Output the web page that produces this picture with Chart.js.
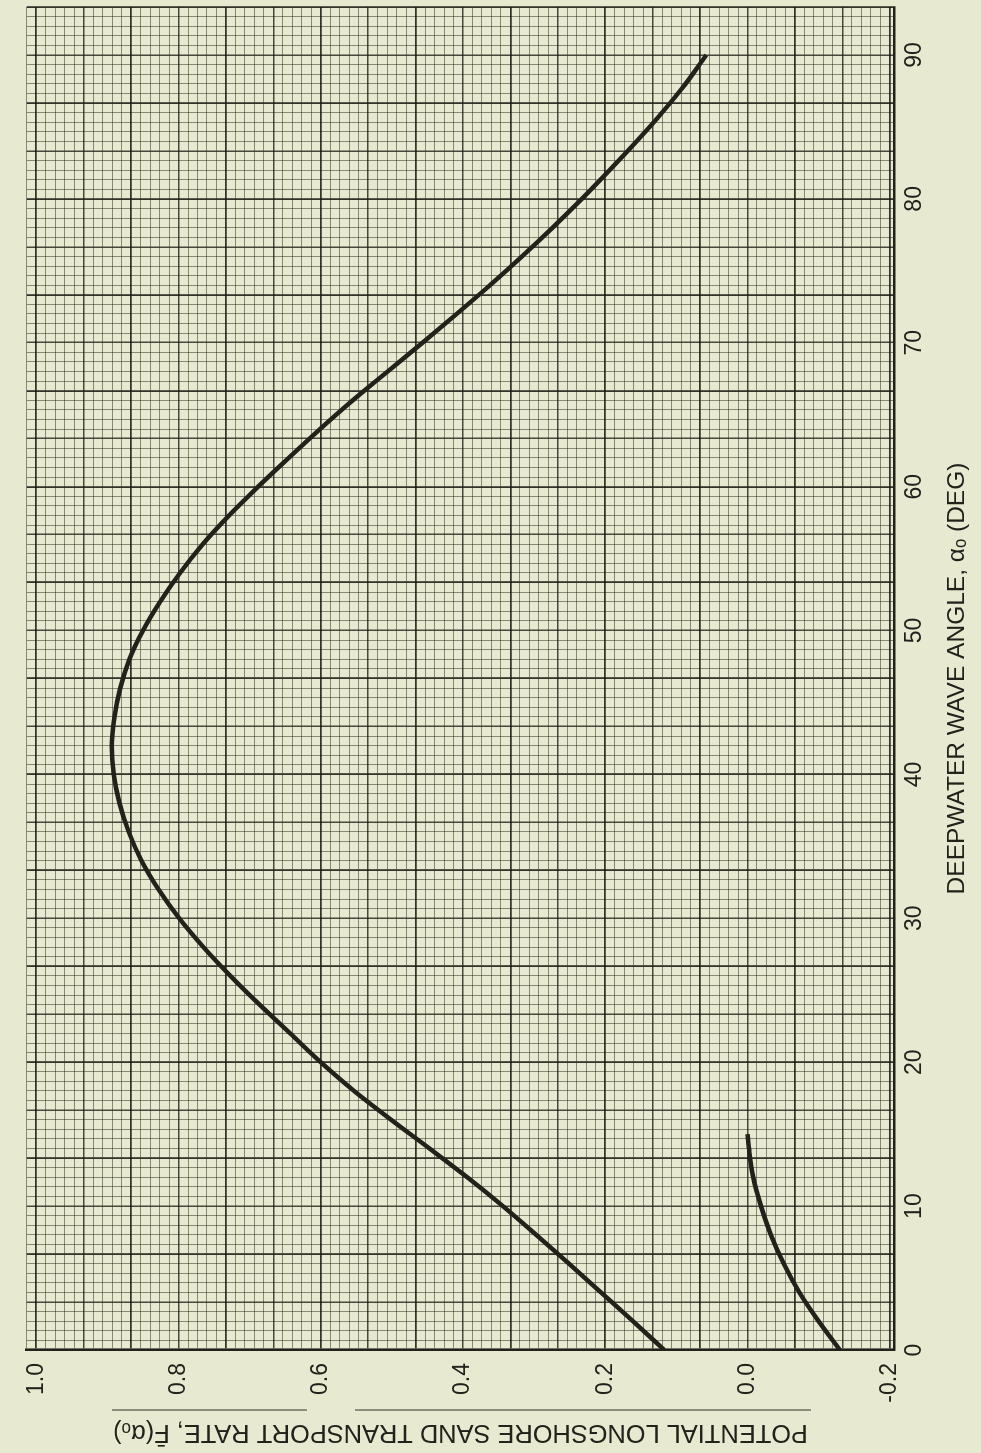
<!DOCTYPE html>
<html>
<head>
<meta charset="utf-8">
<script src="https://cdn.jsdelivr.net/npm/chart.js@4.4.1/dist/chart.umd.min.js"></script>
<style>
  html, body { margin: 0; padding: 0; background: #e8e9d1; overflow: hidden; }
  /* The chart is laid out landscape and turned a quarter turn counter-clockwise */
  #frame {
    position: absolute; left: 0; top: 0;
    width: 1453px; height: 981px;
    transform-origin: 0 0;
    transform: translate(0, 1453px) rotate(-90deg);
  }
  canvas { display: block; }
</style>
</head>
<body>
<div id="frame"><canvas id="chart" width="1453" height="981"></canvas></div>
<script>
// Deepwater wave angle (deg) and potential longshore sand transport rate
const angleMain = [0, 2, 4, 6, 8, 10, 12, 14, 16, 18, 20, 22, 24, 26, 28, 30, 32, 34, 36, 38, 40, 42, 44, 46, 48, 50,
                   52, 54, 56, 58, 60, 62, 64, 66, 68, 70, 72, 74, 76, 78, 80, 82, 84, 86, 88, 90];
const rateMain  = [0.117, 0.161, 0.206, 0.251, 0.297, 0.344, 0.394, 0.447, 0.501, 0.553, 0.600, 0.643, 0.686, 0.727,
                   0.765, 0.799, 0.828, 0.852, 0.870, 0.883, 0.891, 0.894, 0.890, 0.882, 0.869, 0.850,
                   0.826, 0.798, 0.766, 0.729, 0.688, 0.645, 0.601, 0.555, 0.506, 0.457, 0.409, 0.362, 0.317,
                   0.274, 0.233, 0.194, 0.156, 0.120, 0.087, 0.058];

const angleLower = [0, 2, 4, 6, 8, 10, 12, 14, 15];
const rateLower  = [-0.130, -0.100, -0.073, -0.051, -0.033, -0.019, -0.008, -0.002, 0.0];

// Labelled ticks on each axis
const angleTickValues = [0, 10, 20, 30, 40, 50, 60, 70, 80, 90];
const angleTickLabels = ['0', '10', '20', '30', '40', '50', '60', '70', '80', '90'];
const rateTickValues  = [1.0, 0.8, 0.6, 0.4, 0.2, 0.0, -0.2];
const rateTickLabels  = ['1.0', '0.8', '0.6', '0.4', '0.2', '0.0', '-0.2'];

// Graph-paper rulings: 15 small squares per labelled division
const ANGLE_STEP = 10 / 15;
const RATE_STEP = 0.2 / 15;
const ANGLE_LINES = 140;          // rulings above 0 deg
const RATE_TOP = 1.0 + RATE_STEP; // one ruling beyond 1.0
const RATE_BOTTOM = -0.206;

const INK = '#22221b';
const FONT = "'Liberation Sans', Arial, 'DejaVu Sans', sans-serif";

function rulingStyle(k) {
  if (k % 10 === 0) return { color: 'rgba(26,26,18,0.88)', width: 1.8 };
  if (k % 5 === 0)  return { color: 'rgba(30,30,22,0.80)', width: 1.5 };
  return { color: 'rgba(55,55,42,0.55)', width: 1.0 };
}
function angleIndex(v) { return Math.round(v / ANGLE_STEP); }
function rateIndex(v)  { return Math.round((1.0 - v) / RATE_STEP); }

function labelFor(value, values, labels) {
  for (let i = 0; i < values.length; i++) {
    if (Math.abs(values[i] - value) < 1e-6) return labels[i];
  }
  return '';
}

const paperBackground = {
  id: 'paperBackground',
  beforeDraw(chart) {
    const c = chart.ctx;
    c.save();
    c.fillStyle = '#e8e9d1';
    c.fillRect(0, 0, chart.width, chart.height);
    c.restore();
  }
};

// Thin printed rule running beside the rate-axis title
const titleRule = {
  id: 'titleRule',
  afterDraw(chart) {
    const c = chart.ctx;
    c.save();
    c.strokeStyle = 'rgba(60,60,48,0.75)';
    c.lineWidth = 1.4;
    c.beginPath();
    c.moveTo(43, 112); c.lineTo(43, 307);
    c.moveTo(43, 355); c.lineTo(43, 811);
    c.stroke();
    c.restore();
  }
};

const toPoints = (xs, ys) => xs.map((x, i) => ({ x: x, y: ys[i] }));

new Chart(document.getElementById('chart'), {
  type: 'line',
  data: {
    datasets: [
      {
        data: toPoints(angleMain, rateMain),
        borderColor: INK, borderWidth: 4.5, pointRadius: 0,
        cubicInterpolationMode: 'monotone', fill: false
      },
      {
        data: toPoints(angleLower, rateLower),
        borderColor: INK, borderWidth: 4.5, pointRadius: 0,
        cubicInterpolationMode: 'monotone', fill: false
      }
    ]
  },
  options: {
    responsive: false,
    animation: false,
    devicePixelRatio: 1,
    layout: { padding: { top: 10, right: 5, left: 0, bottom: 0 } },
    plugins: { legend: { display: false }, tooltip: { enabled: false } },
    scales: {
      x: {
        type: 'linear',
        position: 'bottom',
        min: 0,
        max: ANGLE_LINES * ANGLE_STEP,
        afterBuildTicks(scale) {
          const t = [];
          for (let k = 0; k <= ANGLE_LINES; k++) t.push({ value: k * ANGLE_STEP });
          scale.ticks = t;
        },
        afterFit(scale) { scale.height = 87; },
        ticks: {
          autoSkip: false, maxRotation: 0, minRotation: 0, padding: 7,
          color: INK, font: { family: FONT, size: 23 },
          callback: (v) => labelFor(v, angleTickValues, angleTickLabels)
        },
        grid: {
          drawTicks: false,
          color: (ctx) => rulingStyle(angleIndex(ctx.tick ? ctx.tick.value : 0)).color,
          lineWidth: (ctx) => rulingStyle(angleIndex(ctx.tick ? ctx.tick.value : 0)).width
        },
        border: { display: true, color: INK, width: 2.6 },
        title: {
          display: true,
          text: 'DEEPWATER WAVE ANGLE, \u03b1\u2092 (DEG)',
          color: INK,
          font: { family: FONT, size: 24.5 },
          padding: { top: 0, bottom: 9 }
        }
      },
      y: {
        type: 'linear',
        position: 'left',
        min: RATE_BOTTOM,
        max: RATE_TOP,
        afterBuildTicks(scale) {
          const t = [];
          for (let k = -1; k <= 90; k++) t.push({ value: 1.0 - k * RATE_STEP });
          scale.ticks = t;
        },
        afterFit(scale) { scale.width = 103; },
        ticks: {
          autoSkip: false, padding: 13,
          color: INK, font: { family: FONT, size: 23 },
          callback: (v) => labelFor(v, rateTickValues, rateTickLabels)
        },
        grid: {
          drawTicks: false,
          color: (ctx) => rulingStyle(rateIndex(ctx.tick ? ctx.tick.value : 0)).color,
          lineWidth: (ctx) => rulingStyle(rateIndex(ctx.tick ? ctx.tick.value : 0)).width
        },
        border: { display: true, color: INK, width: 2.6 },
        title: {
          display: true,
          text: 'POTENTIAL LONGSHORE SAND TRANSPORT RATE, F\u0304(\u03b1\u2092)',
          color: INK,
          font: { family: FONT, size: 25.4 },
          padding: { top: 6, bottom: 0 }
        }
      }
    }
  },
  plugins: [paperBackground, titleRule]
});
</script>
</body>
</html>
